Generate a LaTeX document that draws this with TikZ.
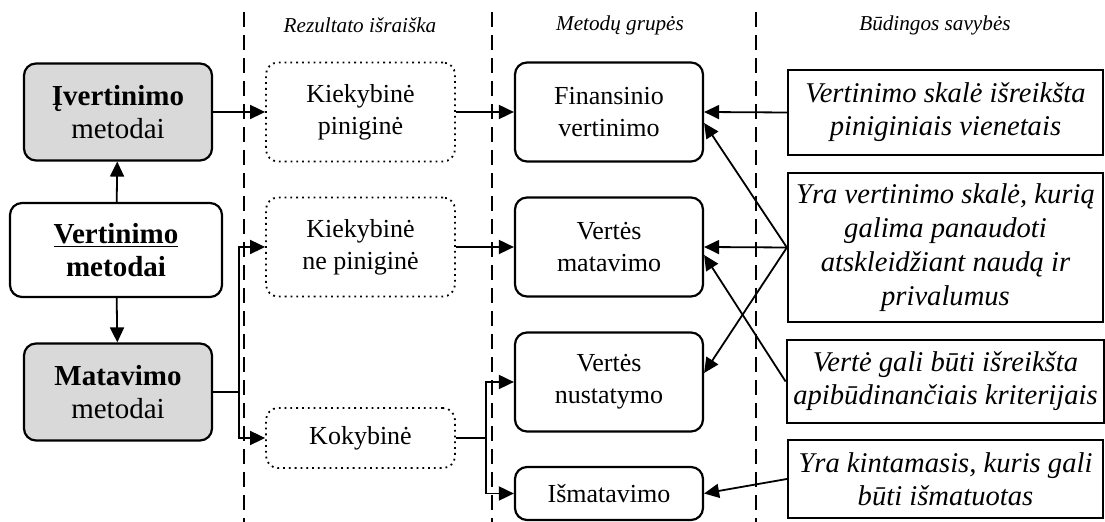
\documentclass[tikz,border=0pt]{standalone}
\usepackage{fontspec}
\setmainfont{Liberation Serif}
\usetikzlibrary{arrows.meta}

\tikzset{
    MethodStyle/.style = {draw, line width=1.1pt, rounded corners=6pt, align=center,
        minimum width=94pt, minimum height=48.5pt,
        font=\fontsize{14.5}{16.7}\selectfont},
    ResultStyle/.style = {draw, dotted, line width=0.9pt, rounded corners=6pt, align=center,
        minimum width=94.5pt, minimum height=49.5pt,
        font=\fontsize{13}{16}\selectfont},
    GroupStyle/.style  = {draw, line width=1.1pt, rounded corners=6pt, align=center,
        minimum width=94pt, minimum height=49.5pt,
        font=\fontsize{13}{16}\selectfont},
    TraitStyle/.style  = {draw, line width=1.1pt, align=center, minimum width=157.5pt,
        font=\itshape\fontsize{14.3}{16.5}\selectfont},
    HeadStyle/.style   = {font=\itshape\fontsize{10.6}{12}\selectfont},
    ArrowStyle/.style  = {line width=0.9pt, -{Triangle[length=7.5pt,width=7pt]}},
    SepStyle/.style    = {line width=0.8pt, dash pattern=on 7.5pt off 4pt}
}

\begin{document}
\begin{tikzpicture}[x=0.5pt, y=-0.5pt]
    \useasboundingbox (0,0) rectangle (1105,522);
    % column separators
    \foreach \sx in {244, 492, 756}
        \draw[SepStyle] (\sx,12) -- (\sx,522);
    \node[HeadStyle] (h1) at (360,25) {Rezultato išraiška};
    \node[HeadStyle] (h2) at (620,25) {Metodų grupės};
    \node[HeadStyle] (h3) at (935,25) {Būdingos savybės};
    % methods
    \node[MethodStyle, fill=black!15] (ivert) at (118,112) {\textbf{Įvertinimo}\\metodai};
    \node[MethodStyle, minimum width=106pt, minimum height=47pt] (vert) at (116,250)
        {\textbf{\underline{Vertinimo}}\\\textbf{metodai}};
    \node[MethodStyle, fill=black!15] (matav) at (118,392) {\textbf{Matavimo}\\metodai};
    % results
    \node[ResultStyle] (kp)  at (360.5,112) {Kiekybinė\\piniginė};
    \node[ResultStyle] (knp) at (360.5,247) {Kiekybinė\\ne piniginė};
    \node[ResultStyle, minimum height=30pt] (kok) at (360.5,438) {Kokybinė};
    % groups
    \node[GroupStyle] (fin)  at (609,112) {Finansinio\\vertinimo};
    \node[GroupStyle] (vmat) at (609,247) {Vertės\\matavimo};
    \node[GroupStyle] (vnus) at (609,382) {Vertės\\nustatymo};
    \node[GroupStyle, minimum height=26.5pt] (ism) at (609,493.5) {Išmatavimo};
    % traits
    \node[TraitStyle, minimum height=42.5pt] (t1) at (945.5,112.5)
        {Vertinimo skalė išreikšta\\piniginiais vienetais};
    \node[TraitStyle, minimum height=74.5pt, font=\itshape\fontsize{14.3}{17}\selectfont] (t2) at (945.5,247.5)
        {Yra vertinimo skalė, kurią\\galima panaudoti\\atskleidžiant naudą ir\\privalumus};
    \node[TraitStyle, minimum height=41.5pt] (t3) at (945.5,381.5)
        {Vertė gali būti išreikšta\\apibūdinančiais kriterijais};
    \node[TraitStyle, minimum height=39pt] (t4) at (945.5,479)
        {Yra kintamasis, kuris gali\\būti išmatuotas};
    % connectors
    \draw[ArrowStyle] (vert) -- (ivert);
    \draw[ArrowStyle] (vert) -- (matav);
    \draw[ArrowStyle] (ivert) -- (kp);
    \draw[ArrowStyle] (matav.east) -- ++(26,0) |- (knp.west);
    \draw[ArrowStyle] (matav.east) -- ++(26,0) |- (kok.west);
    \draw[ArrowStyle] (kp) -- (fin);
    \draw[ArrowStyle] (knp) -- (vmat);
    \draw[ArrowStyle] (kok.east) -- ++(30,0) |- (vnus.west);
    \draw[ArrowStyle] (kok.east) -- ++(30,0) |- (ism.west);
    \draw[ArrowStyle] (t1.west) -- (fin.east);
    \draw[ArrowStyle] (t2.west) -- (vmat.east);
    \draw[ArrowStyle] (t2.west) -- ([yshift=-5.5pt]fin.east);
    \draw[ArrowStyle] (t2.west) -- ([yshift=4.5pt]vnus.east);
    \draw[ArrowStyle] (t3.west) -- ([yshift=-4pt]vmat.east);
    \draw[ArrowStyle] (t4.west) -- (ism.east);
\end{tikzpicture}
\end{document}
